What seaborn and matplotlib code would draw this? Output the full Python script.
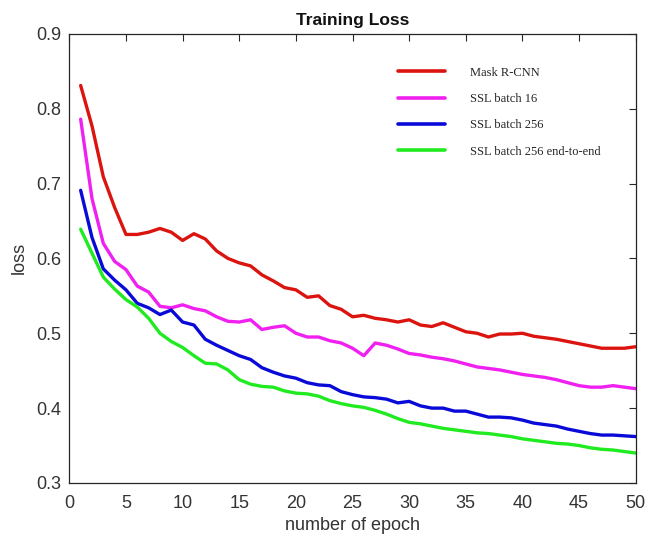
import numpy as np
import pandas as pd
import matplotlib
matplotlib.use("Agg")
import matplotlib.pyplot as plt
import seaborn as sns

epochs = list(range(1, 51))

mask_rcnn = [0.831, 0.777, 0.709, 0.668, 0.632, 0.632, 0.635, 0.640, 0.635, 0.624,
             0.633, 0.626, 0.610, 0.600, 0.594, 0.590, 0.578, 0.570, 0.561, 0.558,
             0.548, 0.550, 0.537, 0.532, 0.522, 0.524, 0.520, 0.518, 0.515, 0.518,
             0.511, 0.509, 0.514, 0.508, 0.502, 0.500, 0.495, 0.499, 0.499, 0.500,
             0.496, 0.494, 0.492, 0.489, 0.486, 0.483, 0.480, 0.480, 0.480, 0.482]

ssl_16 = [0.786, 0.680, 0.620, 0.596, 0.585, 0.563, 0.555, 0.536, 0.534, 0.538,
          0.533, 0.530, 0.522, 0.516, 0.515, 0.518, 0.505, 0.508, 0.510, 0.500,
          0.495, 0.495, 0.490, 0.487, 0.480, 0.470, 0.487, 0.484, 0.479, 0.473,
          0.471, 0.468, 0.466, 0.463, 0.459, 0.455, 0.453, 0.451, 0.448, 0.445,
          0.443, 0.441, 0.438, 0.434, 0.430, 0.428, 0.428, 0.430, 0.428, 0.426]

ssl_256 = [0.691, 0.628, 0.586, 0.571, 0.558, 0.540, 0.534, 0.525, 0.531, 0.515,
           0.511, 0.492, 0.484, 0.477, 0.470, 0.465, 0.454, 0.448, 0.443, 0.440,
           0.434, 0.431, 0.430, 0.422, 0.418, 0.415, 0.414, 0.412, 0.407, 0.409,
           0.403, 0.400, 0.400, 0.396, 0.396, 0.392, 0.388, 0.388, 0.387, 0.384,
           0.380, 0.378, 0.376, 0.372, 0.369, 0.366, 0.364, 0.364, 0.363, 0.362]

ssl_256_e2e = [0.639, 0.607, 0.575, 0.559, 0.545, 0.535, 0.520, 0.500, 0.489, 0.481,
               0.470, 0.460, 0.459, 0.451, 0.438, 0.432, 0.429, 0.428, 0.423, 0.420,
               0.419, 0.416, 0.410, 0.406, 0.403, 0.401, 0.397, 0.392, 0.386, 0.381,
               0.379, 0.376, 0.373, 0.371, 0.369, 0.367, 0.366, 0.364, 0.362, 0.359,
               0.357, 0.355, 0.353, 0.352, 0.350, 0.347, 0.345, 0.344, 0.342, 0.340]

series_names = ["Mask R-CNN", "SSL batch 16", "SSL batch 256", "SSL batch 256 end-to-end"]
series_values = [mask_rcnn, ssl_16, ssl_256, ssl_256_e2e]
colors = ["#dc1410", "#f020f0", "#0a0ad8", "#20ea20"]

x_ticks = [0, 5, 10, 15, 20, 25, 30, 35, 40, 45, 50]
y_ticks = [0.3, 0.4, 0.5, 0.6, 0.7, 0.8, 0.9]

df = pd.DataFrame({
    "epoch": np.tile(epochs, len(series_names)),
    "loss": np.concatenate(series_values),
    "series": np.repeat(series_names, len(epochs)),
})

sns.set_style("white")
plt.rcParams["font.family"] = ["Liberation Sans", "DejaVu Sans"]

fig = plt.figure(figsize=(6.48, 5.37), dpi=100)
ax = fig.add_axes([0.107, 0.1006, 0.874, 0.8364])

sns.lineplot(data=df, x="epoch", y="loss", hue="series", hue_order=series_names,
             palette=colors, linewidth=2.4, ax=ax, legend=True)

ax.set_xlim(0, 50)
ax.set_ylim(0.3, 0.9)
ax.set_xticks(x_ticks)
ax.set_yticks(y_ticks)
ax.set_xticklabels([str(t) for t in x_ticks])
ax.set_yticklabels([f"{t:.1f}" for t in y_ticks])
ax.tick_params(direction="in", top=True, right=True, length=5, width=0.8,
               labelsize=13, colors="#262626", labelcolor="#333333")
ax.tick_params(axis="x", pad=9)
ax.tick_params(axis="y", pad=6)
for sp in ax.spines.values():
    sp.set_color("#262626")
    sp.set_linewidth(0.9)

ax.set_xlabel("number of epoch", fontsize=13, color="#333333", labelpad=3)
ax.set_ylabel("loss", fontsize=13, color="#333333", labelpad=6)
ax.set_title("Training Loss", fontsize=12.5, fontweight="bold", color="#111111", pad=6)

leg = ax.legend(loc="upper left", bbox_to_anchor=(0.561, 0.952), frameon=False,
                prop={"family": "Liberation Serif", "size": 9},
                handlelength=3.7, handletextpad=2.0, labelspacing=1.15)
for line in leg.get_lines():
    line.set_linewidth(2.6)

fig.savefig("out.png", dpi=100)
